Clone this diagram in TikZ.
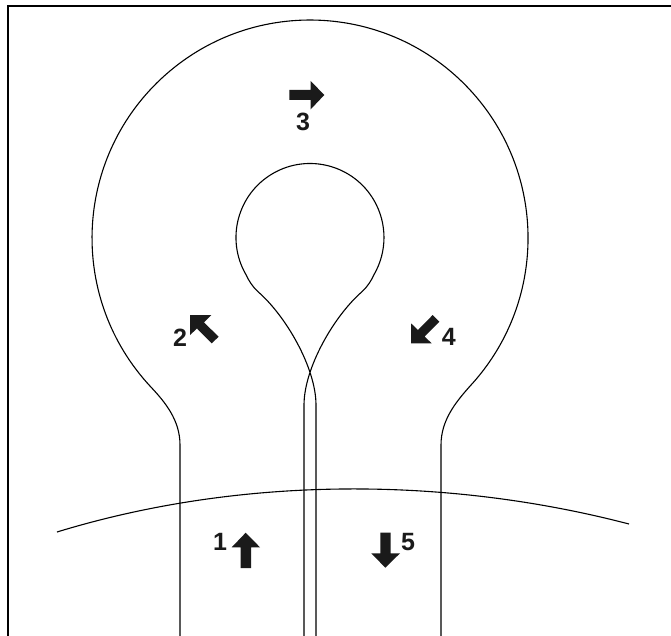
\documentclass[tikz,border=0pt]{standalone}
\usepackage{fontspec}
\setmainfont{Liberation Sans}
\definecolor{ink}{HTML}{1A1A1A}
\tikzset{
  outline/.style={draw=black,line width=1.1pt},
  framebox/.style={draw=black,line width=2pt},
  flow/.style={fill=ink,draw=none},
  num/.style={font=\bfseries\fontsize{25}{25}\selectfont,inner sep=0pt,text=ink}
}
\begin{document}
\begin{tikzpicture}[x=1pt,y=-1pt]
\useasboundingbox (0,0) rectangle (671,636);
\fill[white] (0,0) rectangle (671,636);
% frame
\draw[framebox] (8,636) -- (8,6) -- (671,6);
% outer wall
\draw[outline] (180,636) -- (180,445)
  .. controls (180,420) and (165,402) .. (150.6,386.7)
  arc[start angle=137,end angle=403,radius=218]
  .. controls (456,402) and (441,420) .. (441,445) -- (441,636);
% inner wall
\draw[outline] (316,636) -- (316,405)
  .. controls (316,368) and (286,316) .. (258,291.7)
  .. controls (252,286) and (249,281) .. (245.9,274.5)
  arc[start angle=150,end angle=390,radius=74]
  .. controls (371,281) and (368,286) .. (362,291.7)
  .. controls (334,316) and (304,368) .. (304,405) -- (304,636);
% horizon
\draw[outline] (57,532) .. controls (240,476) and (445,476) .. (629,524);
% arrows
\fill[flow] (245.7,532.7) -- (260,547.3) -- (251,547.3) -- (251,568) -- (240.7,568) -- (240.7,547.3) -- (231.7,547.3) -- cycle;
\fill[flow] (385.3,567.7) -- (400,553.3) -- (390.7,553.3) -- (390.7,532.7) -- (380.3,532.7) -- (380.3,553.3) -- (371.3,553.3) -- cycle;
\fill[flow] (324.3,95) -- (310.7,81) -- (310.7,90) -- (289.3,90) -- (289.3,100) -- (310.7,100) -- (310.7,109.3) -- cycle;
\fill[flow] (190,315) -- (211.3,315) -- (204,322.5) -- (218.7,336.7) -- (211.7,343.3) -- (197,328.5) -- (190,335) -- cycle;
\fill[flow] (411,343.3) -- (411,323.3) -- (418,330) -- (432.7,315) -- (439.3,321.7) -- (424.5,336.5) -- (431.7,343.3) -- cycle;
% labels
\node[num] (n1) at (220,541.5) {1};
\node[num] (n2) at (180,337.3) {2};
\node[num] (n3) at (303,121.7) {3};
\node[num] (n4) at (448.7,337.3) {4};
\node[num] (n5) at (408,542.3) {5};
\end{tikzpicture}
\end{document}
